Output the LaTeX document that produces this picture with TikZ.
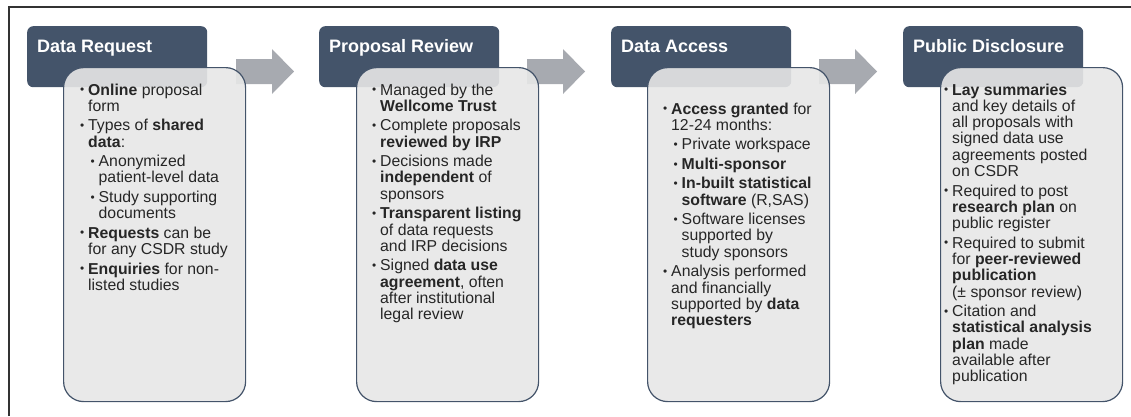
\documentclass[tikz,border=0pt]{standalone}
\usepackage{fontspec}
\usepackage{graphicx}
\setmainfont{Liberation Sans}
\definecolor{hdrc}{HTML}{44546A}
\definecolor{arrg}{HTML}{A7AAB0}
\definecolor{boxf}{HTML}{E7E7E7}
\definecolor{txtc}{HTML}{262626}
\definecolor{frmc}{HTML}{333333}
\newcommand\bdot{\raisebox{0.08em}{\scalebox{0.75}{\textbullet}}}
\newcommand\bi{\par\leftskip=0pt\hangindent=8pt\hangafter=1\noindent\strut\makebox[8pt][l]{\bdot}}
\newcommand\bii{\par\leftskip=10.5pt\hangindent=8pt\hangafter=1\noindent\strut\makebox[8pt][l]{\bdot}}
\newcommand\nl{\hfil\break}
\newcommand\colbody[1]{\parbox[t]{200pt}{\fontsize{15.8}{16.3}\selectfont\raggedright\lineskiplimit=-30pt\lineskip=0pt\hyphenpenalty=10000\parskip=3.2pt #1\par}}
\tikzset{
  hdrbox/.style={fill=hdrc, rounded corners=6pt, minimum width=180pt, minimum height=61pt, anchor=north west, inner sep=0pt, draw=none},
  hdrtxt/.style={anchor=base west, inner sep=0pt, text=white, font=\fontsize{18}{20}\selectfont\bfseries},
  cbox/.style={fill=boxf, fill opacity=0.9, draw=hdrc, line width=1.2pt, rounded corners=20pt, minimum width=182pt, minimum height=334pt, anchor=north west, inner sep=0pt},
  ctxt/.style={anchor=base west, inner sep=0pt, text=txtc},
  blockarrow/.style={fill=arrg, draw=none}
}
\begin{document}
\begin{tikzpicture}[x=1pt,y=-1pt]
\useasboundingbox (0,0) rectangle (1131,416);
% frame
\draw[frmc, line width=2pt] (9,416) -- (9,7) -- (1131,7);
% arrows
\foreach \ax/\nm in {236/a1,527/a2,819/a3}{
  \coordinate (\nm) at (\ax,46.5);
  \fill[blockarrow] ([yshift=-12.5pt]\nm) -- ++(36,0) -- ++(0,-10) -- ++(22,22.5) -- ++(-22,22.5) -- ++(0,-10) -- ++(-36,0) -- cycle;
}
% headers
\node[hdrbox] (h1) at (27,26) {};
\node[hdrbox] (h2) at (319,26) {};
\node[hdrbox] (h3) at (611,26) {};
\node[hdrbox] (h4) at (903,26) {};
\node[hdrtxt] (h1t) at (37,52) {Data Request};
\node[hdrtxt] (h2t) at (329,52) {Proposal Review};
\node[hdrtxt] (h3t) at (621,52) {Data Access};
\node[hdrtxt] (h4t) at (913,52) {Public Disclosure};
% content boxes
\node[cbox] (c1) at (63,67) {};
\node[cbox] (c2) at (356,67) {};
\node[cbox] (c3) at (647,67) {};
\node[cbox] (c4) at (940,67) {};
% texts
\node[ctxt] (t1) at (80,95) {\colbody{%
\bi\textbf{Online} proposal\nl form
\bi Types of \textbf{shared}\nl \textbf{data}:
\bii Anonymized\nl patient-level data
\bii Study supporting\nl documents
\bi\textbf{Requests} can be\nl for any CSDR study
\bi\textbf{Enquiries} for non-\nl listed studies}};
\node[ctxt] (t2) at (372,95) {\colbody{%
\bi Managed by the\nl \textbf{Wellcome Trust}
\bi Complete proposals\nl \textbf{reviewed by IRP}
\bi Decisions made\nl \textbf{independent} of\nl sponsors
\bi\textbf{Transparent listing}\nl of data requests\nl and IRP decisions
\bi Signed \textbf{data use}\nl \textbf{agreement}, often\nl after institutional\nl legal review}};
\node[ctxt] (t3) at (663,114) {\colbody{%
\bi\textbf{Access granted} for\nl 12-24 months:
\bii Private workspace
\bii\textbf{Multi-sponsor}
\bii\textbf{In-built statistical}\nl \textbf{software} (R,SAS)
\bii Software licenses\nl supported by\nl study sponsors
\bi Analysis performed\nl and financially\nl supported by \textbf{data}\nl \textbf{requesters}}};
\node[ctxt] (t4) at (944,95) {\colbody{%
\bi\textbf{Lay summaries}\nl and key details of\nl all proposals with\nl signed data use\nl agreements posted\nl on CSDR
\bi Required to post\nl \textbf{research plan} on\nl public register
\bi Required to submit\nl for \textbf{peer-reviewed}\nl \textbf{publication}\nl (± sponsor review)
\bi Citation and\nl \textbf{statistical analysis}\nl \textbf{plan} made\nl available after\nl publication}};
\end{tikzpicture}
\end{document}
